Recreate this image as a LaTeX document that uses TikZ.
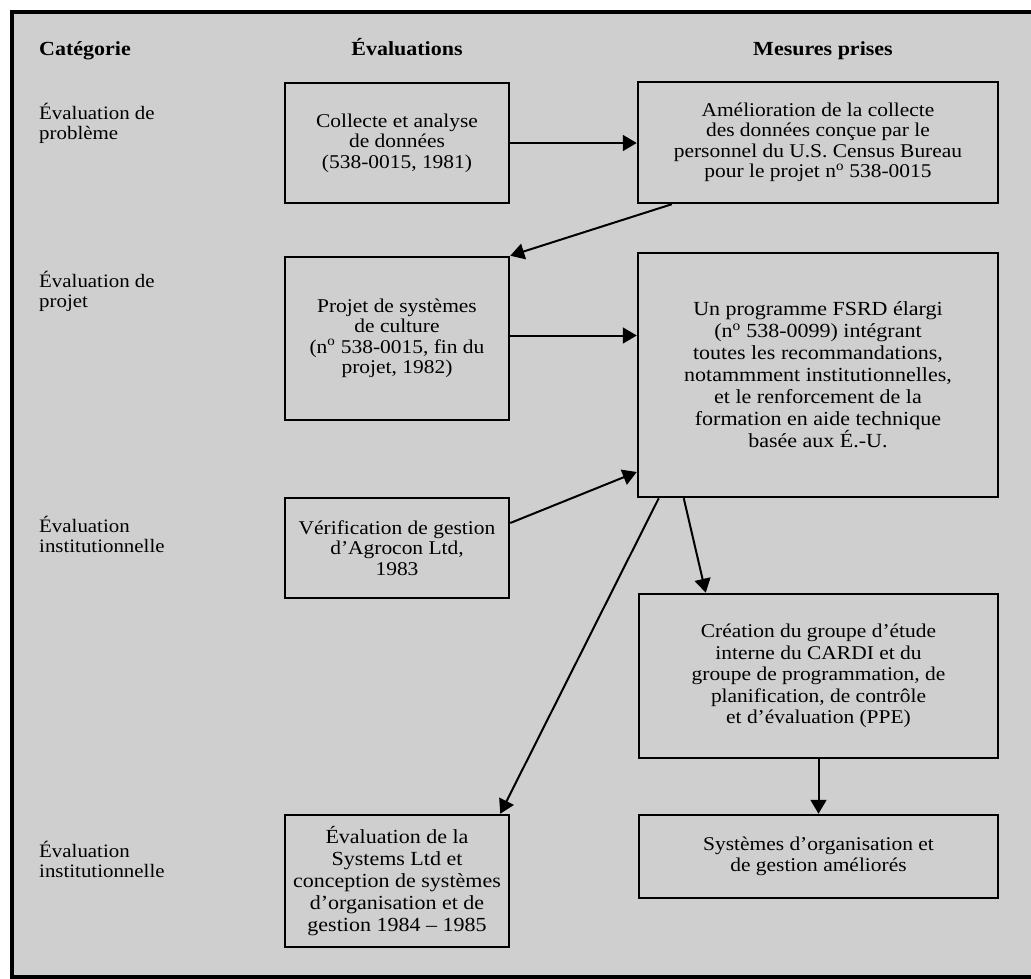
\documentclass[tikz,border=0pt]{standalone}
\usepackage{fontspec}
\setmainfont{Liberation Serif}[FakeStretch=1.1]
\usetikzlibrary{arrows.meta}
\definecolor{paper}{gray}{0.81}
\begin{document}
\begin{tikzpicture}[x=1pt,y=-1pt,
  box/.style={draw, line width=2.5pt, inner sep=0pt, align=center,
    font=\fontsize{19.5}{20.5}\selectfont},
  bigtext/.style={font=\fontsize{20}{22}\selectfont},
  lab/.style={anchor=west, align=left, inner sep=0pt, font=\fontsize{19}{20}\selectfont},
  head/.style={inner sep=0pt, anchor=base, font=\bfseries\fontsize{20}{22}\selectfont},
  arr/.style={line width=2pt, -{Triangle[length=14pt,width=16pt]}}]
\useasboundingbox (0,0) rectangle (1031,979);
\draw[line width=3.5pt, fill=paper] (12,12) rectangle (1045,977);

% headers
\node[head, anchor=base west] (hcat) at (39,56) {Catégorie};
\node[head] (heva) at (407,56) {Évaluations};
\node[head] (hmes) at (823,56) {Mesures prises};

% category labels
\node[lab] (l1) at (39,123) {Évaluation de\\problème};
\node[lab] (l2) at (39,291) {Évaluation de\\projet};
\node[lab] (l3) at (39,534) {Évaluation\\institutionnelle};
\node[lab] (l4) at (39,859) {Évaluation\\institutionnelle};

% boxes
\node[box, minimum width=224pt, minimum height=120pt] (b1) at (397,143)
  {Collecte et analyse\\de données\\(538-0015, 1981)};
\node[box, minimum width=360pt, minimum height=121pt] (b2) at (818,142.5)
  {Amélioration de la collecte\\des données conçue par le\\personnel du U.S. Census Bureau\\pour le projet n\textsuperscript{o} 538-0015};
\node[box, minimum width=224pt, minimum height=163pt] (b3) at (397,338.5)
  {Projet de systèmes\\de culture\\(n\textsuperscript{o} 538-0015, fin du\\projet, 1982)};
\node[box, bigtext, minimum width=360pt, minimum height=244pt] (b4) at (818,375)
  {Un programme FSRD élargi\\(n\textsuperscript{o} 538-0099) intégrant\\toutes les recommandations,\\notammment institutionnelles,\\et le renforcement de la\\formation en aide technique\\basée aux É.-U.};
\node[box, minimum width=224pt, minimum height=100pt] (b5) at (397,548)
  {Vérification de gestion\\d'Agrocon Ltd,\\1983};
\node[box, font=\fontsize{19.5}{21.5}\selectfont, minimum width=359pt, minimum height=164pt] (b6) at (818.5,676)
  {Création du groupe d'étude\\interne du CARDI et du\\groupe de programmation, de\\planification, de contrôle\\et d'évaluation (PPE)};
\node[box, minimum width=359pt, minimum height=83pt] (b7) at (818.5,856.5)
  {Systèmes d'organisation et\\de gestion améliorés};
\node[box, bigtext, minimum width=224pt, minimum height=132pt] (b8) at (397,881)
  {Évaluation de la\\Systems Ltd et\\conception de systèmes\\d'organisation et de\\gestion 1984 -- 1985};

% connectors
\draw[arr] (b1.east) -- (b1.east -| b2.west);
\draw[arr] ([xshift=35pt]b2.south west) -- (b3.north east);
\coordinate (a3s) at ([yshift=3pt]b3.east);
\draw[arr] (a3s) -- (a3s -| b4.west);
\draw[arr] ([yshift=25pt]b5.east) -- ([yshift=-97pt]b4.west);
\draw[arr] ([xshift=22pt]b4.south west) -- ([xshift=-10pt]b8.north east);
\draw[arr] ([xshift=47pt]b4.south west) -- ([xshift=68pt]b6.north west);
\draw[arr] (b6.south) -- (b7.north);
\end{tikzpicture}
\end{document}
